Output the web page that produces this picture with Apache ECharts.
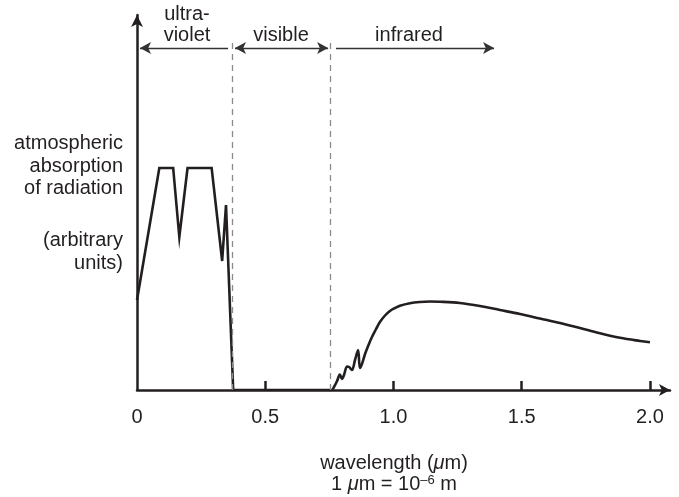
<!DOCTYPE html>
<html><head><meta charset="utf-8">
<script src="https://cdn.jsdelivr.net/npm/echarts@6/dist/echarts.min.js"></script>
<style>html,body{margin:0;padding:0;background:#fff}#c{width:679px;height:497px}</style>
</head><body><div id="c"></div>
<script>
// Ultraviolet absorption (arbitrary units)
const uvX = [0, 0.087, 0.141, 0.165, 0.197, 0.291, 0.332, 0.347, 0.375, 0.752];
const uvY = [90, 222, 222, 153, 222, 222, 129, 185, 0, 0];
// Infrared absorption
const irX = [0.752, 0.760, 0.768, 0.780, 0.791, 0.799, 0.807, 0.819, 0.827, 0.838, 0.850, 0.862, 0.869, 0.877, 0.889, 0.901, 0.916, 0.932, 0.947, 0.967, 0.986, 1.006, 1.025, 1.064, 1.103, 1.142, 1.181, 1.259, 1.337, 1.415, 1.493, 1.571, 1.649, 1.727, 1.805, 1.883, 1.961, 2.0];
const irY = [0, 0, 3, 9, 15.5, 11, 15, 23.5, 23, 20, 30, 40, 22, 26, 36, 44, 53, 61, 68, 74.5, 79, 82, 84.3, 86.8, 88, 88.5, 88.3, 87, 84, 80, 76, 71.5, 67, 62, 56.7, 52.2, 49, 47.7];
// Axis ticks / labels
const xTickValues = [0.5, 1.0, 1.5, 2.0];
const xLabelValues = [0, 0.5, 1.0, 1.5, 2.0];
const xLabelTexts = ['0', '0.5', '1.0', '1.5', '2.0'];
// Region boundaries (µm)
const boundaries = [0.37, 0.753];
// Band arrows
const bandNames = ['ultra-\nviolet', 'visible', 'infrared'];
const bandFrom = [0.0117, 0.382, 0.776];
const bandTo = [0.355, 0.745, 1.392];
const bandStartArrow = [true, true, false];
const bandEndArrow = [false, true, true];
const arrowLevel = 342;
const dashTop = 349;

const FONT = "'Liberation Sans', Arial, sans-serif";
const INK = '#231f20';

const chart = echarts.init(document.getElementById('c'));

const bandLines = bandFrom.map((f, i) => [
  { coord: [f, arrowLevel], symbol: bandStartArrow[i] ? 'arrow' : 'none' },
  { coord: [bandTo[i], arrowLevel], symbol: bandEndArrow[i] ? 'arrow' : 'none' }
]);
const dashLines = boundaries.map(b => [
  { coord: [b, 0], symbol: 'none', lineStyle: { type: [6, 5], color: '#8a8a8a', width: 1.3 } },
  { coord: [b, dashTop], symbol: 'none' }
]);

chart.setOption({
  animation: false,
  backgroundColor: '#fff',
  grid: { left: 137, top: 15, right: 9, bottom: 107 },
  xAxis: {
    type: 'value', min: 0, max: 2.078,
    axisLine: { show: true, symbol: ['none', 'arrow'], symbolSize: [9, 11], lineStyle: { color: INK, width: 2.5 } },
    axisTick: { show: true, inside: true, length: 9, customValues: xTickValues, lineStyle: { color: INK, width: 2.5 } },
    axisLabel: {
      customValues: xLabelValues,
      formatter: v => xLabelTexts[xLabelValues.indexOf(v)] ?? '',
      color: INK, fontFamily: FONT, fontSize: 20, margin: 17
    },
    splitLine: { show: false }
  },
  yAxis: {
    type: 'value', min: 0, max: 375,
    axisLine: { show: true, symbol: ['none', 'arrow'], symbolSize: [9, 12], lineStyle: { color: INK, width: 2.5 } },
    axisTick: { show: false },
    axisLabel: { show: false },
    splitLine: { show: false }
  },
  series: [
    {
      name: 'uv', type: 'line', showSymbol: false, smooth: false,
      data: uvX.map((x, i) => [x, uvY[i]]),
      lineStyle: { color: INK, width: 2.6, join: 'miter' },
      markLine: {
        silent: true, symbolSize: [9, 11],
        label: { show: false },
        lineStyle: { color: '#333', width: 1.3, type: 'solid' },
        data: bandLines.concat(dashLines)
      },
      z: 3
    },
    {
      name: 'ir', type: 'line', showSymbol: false, smooth: 0.35,
      data: irX.map((x, i) => [x, irY[i]]),
      lineStyle: { color: INK, width: 2.6 },
      z: 3
    }
  ],
  graphic: [
    { type: 'text', x: 187, y: 25, style: { text: 'ultra-\nviolet', font: '20px ' + FONT, fill: INK, align: 'center', verticalAlign: 'middle', lineHeight: 21 } },
    { type: 'text', x: 281, y: 35, style: { text: 'visible', font: '20px ' + FONT, fill: INK, align: 'center', verticalAlign: 'middle' } },
    { type: 'text', x: 409, y: 35, style: { text: 'infrared', font: '20px ' + FONT, fill: INK, align: 'center', verticalAlign: 'middle' } },
    { type: 'text', x: 123, y: 166, style: { text: 'atmospheric\nabsorption\nof radiation', font: '20px ' + FONT, fill: INK, align: 'right', verticalAlign: 'middle', lineHeight: 22.5 } },
    { type: 'text', x: 123, y: 252, style: { text: '(arbitrary\nunits)', font: '20px ' + FONT, fill: INK, align: 'right', verticalAlign: 'middle', lineHeight: 22.5 } },
    { type: 'text', x: 394, y: 463, style: {
      text: 'wavelength ({i|μ}m)', font: '20px ' + FONT, fill: INK, align: 'center', verticalAlign: 'middle',
      rich: { i: { fontStyle: 'italic', fontSize: 20, fontFamily: 'Liberation Sans', fill: INK } }
    } },
    { type: 'text', x: 394, y: 484, style: {
      text: '1 {i|μ}m = 10{sup|–6} m', font: '20px ' + FONT, fill: INK, align: 'center', verticalAlign: 'middle',
      rich: {
        i: { fontStyle: 'italic', fontSize: 20, fontFamily: 'Liberation Sans', fill: INK },
        sup: { fontSize: 13, fontFamily: 'Liberation Sans', fill: INK, verticalAlign: 'top', lineHeight: 13 }
      }
    } }
  ]
});
</script>
</body></html>
